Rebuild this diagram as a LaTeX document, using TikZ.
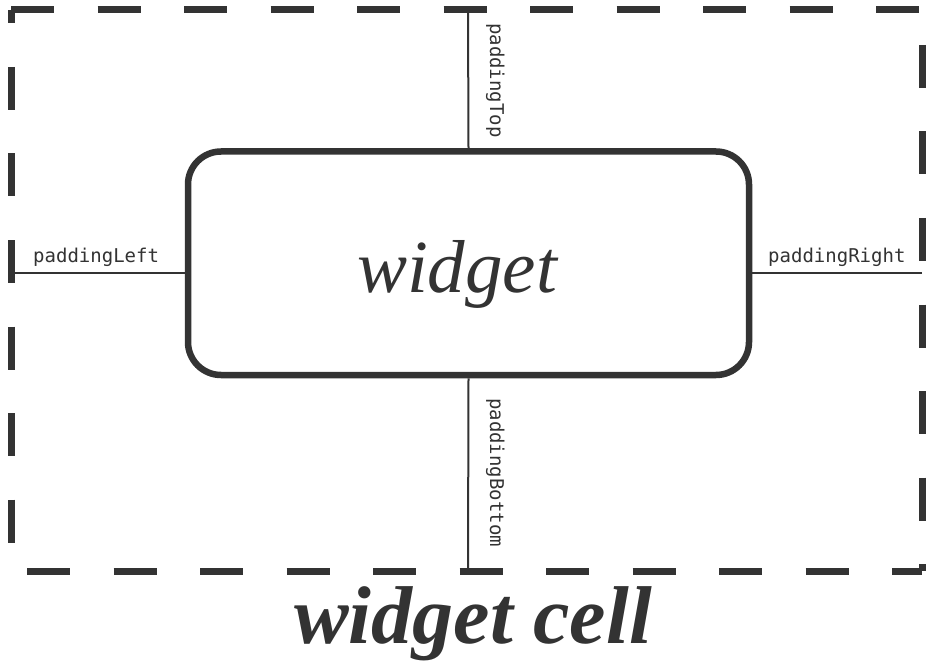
\documentclass[tikz,border=0pt]{standalone}
\usepackage{fontspec}
\setmainfont{Liberation Serif}
\newfontfamily\labelfont{DejaVu Sans Mono}
\definecolor{ink}{HTML}{333333}
\tikzset{
  cellside/.style={draw=ink, line width=7pt, line cap=butt, dash pattern=on 43pt off 43.5pt},
  widgetbox/.style={draw=ink, line width=6.5pt, rounded corners=33pt, inner sep=0pt},
  padline/.style={draw=ink, line width=2pt},
  padlabel/.style={text=ink, font=\labelfont\fontsize{19}{19}\selectfont, inner sep=0pt},
  bigtext/.style={text=ink, inner sep=0pt},
}
\begin{document}
\begin{tikzpicture}[x=1pt,y=-1pt]
\useasboundingbox (0,0) rectangle (926,663);
% cell corners
\coordinate (tl) at (11,10);
\coordinate (tr) at (922,10);
\coordinate (br) at (922,571);
\coordinate (bl) at (11,571);
\draw[cellside, dash phase=0pt] (tl) -- (tr);
\draw[cellside, dash phase=51.5pt] (tr) -- (br);
\draw[cellside, dash phase=70.5pt] (bl) -- (br);
\draw[cellside, dash phase=29.5pt] (tl) -- (bl);
% widget box
\node[widgetbox, minimum width=561pt, minimum height=223.5pt] (w) at (468.5,263.25) {};
\node[bigtext, anchor=base, font=\itshape\fontsize{75}{75}\selectfont] (wl) at (457,292) {widget};
% padding connectors
\coordinate (ptop) at (468,10);
\coordinate (pbot) at (468,571);
\coordinate (pleft) at (11,272.5);
\coordinate (pright) at (922,272.5);
\draw[padline] (w.north) -- (ptop);
\draw[padline] (w.south) -- (pbot);
\draw[padline] (pleft) -- (pleft -| w.west);
\draw[padline] (pright) -- (pright -| w.east);
% labels
\node[padlabel, anchor=base west, rotate=-90] (lt) at (490,23) {paddingTop};
\node[padlabel, anchor=base west, rotate=-90] (lb) at (490,398) {paddingBottom};
\node[padlabel, anchor=base west] (ll) at (33,262) {paddingLeft};
\node[padlabel, anchor=base west] (lr) at (768,262) {paddingRight};
% caption
\node[bigtext, anchor=base, font=\bfseries\itshape\fontsize{82}{82}\selectfont] (cap) at (473,643) {widget cell};
\end{tikzpicture}
\end{document}
